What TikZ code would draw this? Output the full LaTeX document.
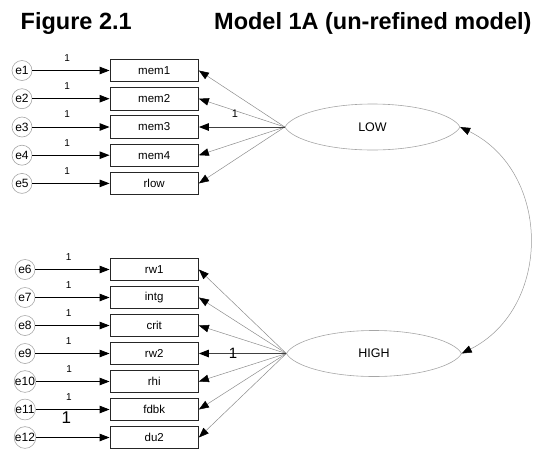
\documentclass[tikz,border=0pt]{standalone}
\usepackage{fontspec}
\setmainfont{Liberation Sans}
\usetikzlibrary{arrows.meta,shapes.geometric}

\tikzset{
  obsbox/.style={rectangle, draw=black!85, line width=0.8pt,
    minimum width=88.5pt, minimum height=22.5pt, inner sep=0pt,
    font=\fontsize{11.5}{13}\selectfont},
  errcirc/.style={circle, draw=black!35, line width=0.6pt,
    minimum size=20pt, inner sep=0pt, font=\fontsize{12}{13}\selectfont},
  latent/.style={ellipse, minimum width=175pt, minimum height=46pt,
    inner sep=0pt, font=\fontsize{12.5}{14}\selectfont},
  errarrow/.style={draw=black, line width=0.9pt, ->},
  loadarrow/.style={draw=black!45, line width=0.5pt, ->},
  fixarrow/.style={draw=black!75, line width=1pt, ->},
  covarrow/.style={draw=black!40, line width=0.5pt, <->},
  onelab/.style={font=\fontsize{10}{11}\selectfont, inner sep=0pt},
  bigone/.style={font=\fontsize{17}{18}\selectfont, inner sep=0pt},
  titletext/.style={font=\fontsize{23.5}{26}\selectfont\bfseries, inner sep=0pt},
  lens/.pic={
    \draw[draw=black!35, line width=0.6pt]
      (-87.5,0) .. controls (-81,-12) and (-46,-23) .. (0,-23)
      .. controls (46,-23) and (81,-12) .. (87.5,0)
      .. controls (81,12) and (46,23) .. (0,23)
      .. controls (-46,23) and (-81,12) .. (-87.5,0) -- cycle;
  }
}

\begin{document}
\begin{tikzpicture}[x=1pt, y=-1pt,
  >={Triangle[length=10pt, width=7.5pt, color=black, fill=black]}]
\useasboundingbox (0,0) rectangle (539,448);

% title line
\node[titletext, anchor=base west] (fig) at (20.5,29) {Figure 2.1};
\node[titletext, anchor=base west] (model) at (214,29) {Model 1A (un-refined model)};

% latent factors
\pic at (372.5,127) {lens};
\pic at (374,353.5) {lens};
\node[latent] (LOW) at (372.5,127) {LOW};
\node[latent] (HIGH) at (374,353.5) {HIGH};

% indicators of LOW
\node[obsbox] (mem1) at (154.2,70.5) {mem1};
\node[obsbox] (mem2) at (154.2,98.7) {mem2};
\node[obsbox] (mem3) at (154.2,127) {mem3};
\node[obsbox] (mem4) at (154.2,155.2) {mem4};
\node[obsbox] (rlow) at (154.2,183.4) {rlow};

% indicators of HIGH
\node[obsbox] (rw1)  at (154.2,269.5) {rw1};
\node[obsbox] (intg) at (154.2,297.5) {intg};
\node[obsbox] (crit) at (154.2,325.5) {crit};
\node[obsbox] (rw2)  at (154.2,353.5) {rw2};
\node[obsbox] (rhi)  at (154.2,381.5) {rhi};
\node[obsbox] (fdbk) at (154.2,409.5) {fdbk};
\node[obsbox] (du2)  at (154.2,437.5) {du2};

% error terms
\node[errcirc] (e1) at (22,70.5) {e1};
\node[errcirc] (e2) at (22,98.7) {e2};
\node[errcirc] (e3) at (22,127) {e3};
\node[errcirc] (e4) at (22,155.2) {e4};
\node[errcirc] (e5) at (22,183.4) {e5};
\node[errcirc] (e6)  at (25,269.5) {e6};
\node[errcirc] (e7)  at (25,297.5) {e7};
\node[errcirc] (e8)  at (25,325.5) {e8};
\node[errcirc] (e9)  at (25,353.5) {e9};
\node[errcirc] (e10) at (25,381.5) {e10};
\node[errcirc] (e11) at (25,409.5) {e11};
\node[errcirc] (e12) at (25,437.5) {e12};

% error paths, fixed to 1
\foreach \e/\v in {e1/mem1, e2/mem2, e3/mem3, e4/mem4, e5/rlow,
                   e6/rw1, e7/intg, e8/crit, e9/rw2, e10/rhi, e11/fdbk}
  \draw[errarrow] (\e) -- node[onelab, pos=0.45, yshift=12.5pt] {1} (\v);
\draw[errarrow] (e12) -- node[bigone, pos=0.41, yshift=19.5pt] {1} (du2);

% factor loadings
\foreach \v in {mem1, mem2, mem4, rlow}
  \draw[loadarrow] (LOW.west) -- (\v.east);
\draw[fixarrow] (LOW.west) -- node[onelab, font=\fontsize{11}{12}\selectfont, pos=0.58, yshift=13.5pt] {1} (mem3.east);

\foreach \v in {rw1, intg, crit, rhi, fdbk, du2}
  \draw[loadarrow] (HIGH.west) -- (\v.east);
\draw[fixarrow] (HIGH.west) -- node[font=\fontsize{15}{16}\selectfont, inner sep=0pt, pos=0.61] {1} (rw2.east);

% factor covariance
\draw[covarrow] (LOW.east) .. controls (552,172) and (552,308) .. (HIGH.east);
\end{tikzpicture}
\end{document}
